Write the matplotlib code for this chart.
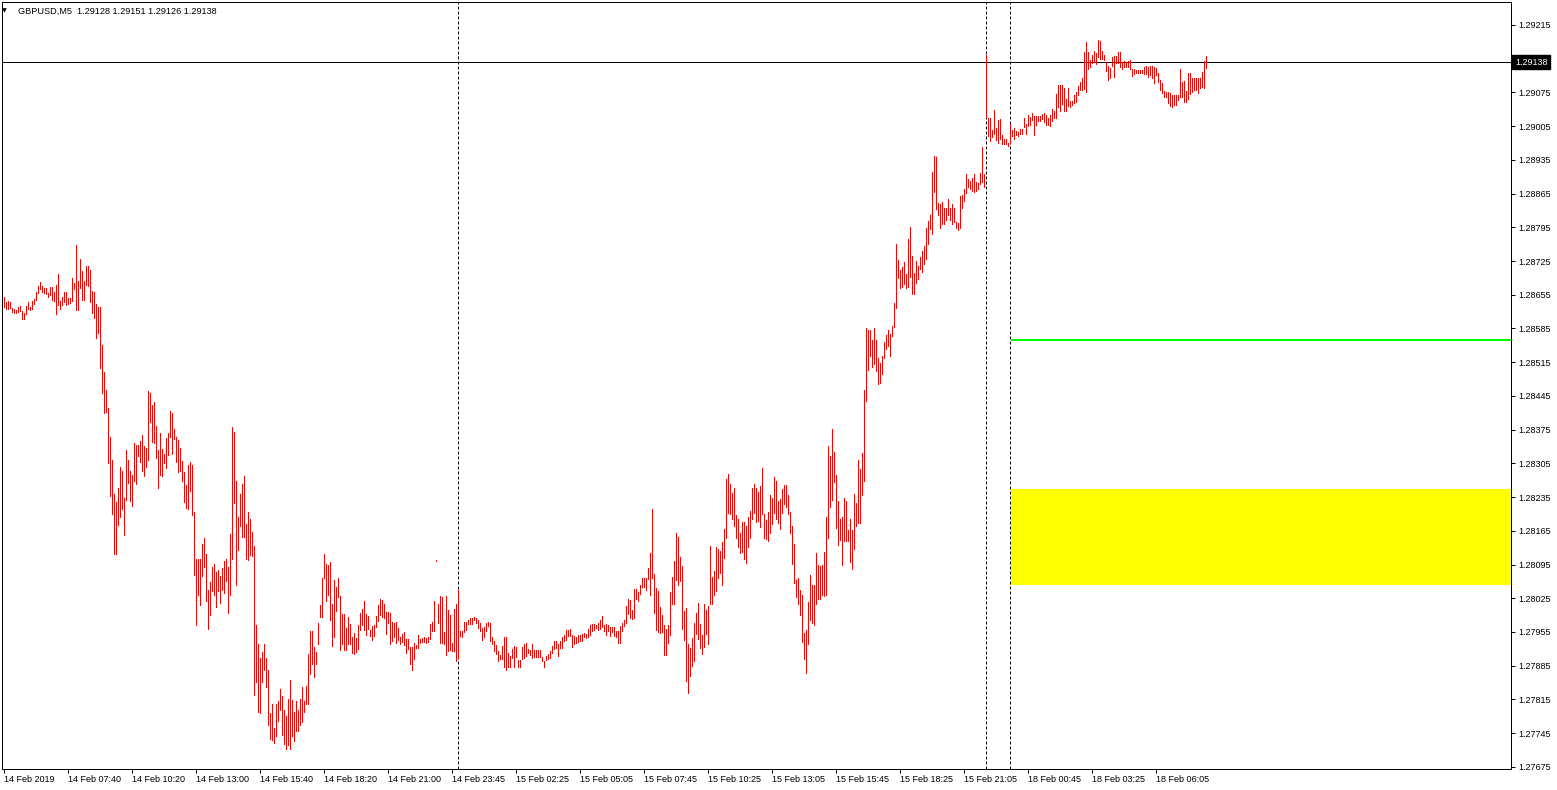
import numpy as np
import matplotlib.pyplot as plt
from matplotlib.patches import Rectangle
from matplotlib.transforms import blended_transform_factory

plt.rcParams['font.family'] = ['Liberation Sans', 'DejaVu Sans']

## GBPUSD M5 bars, high / low in points (0.00001) above 1.27000
high_pts = [
    1651, 1640, 1641, 1640, 1628, 1625, 1624, 1630, 1632, 1621,
    1618, 1632, 1640, 1630, 1643, 1647, 1661, 1673, 1681, 1673,
    1670, 1669, 1659, 1672, 1672, 1661, 1676, 1698, 1643, 1650,
    1661, 1661, 1648, 1649, 1690, 1680, 1759, 1683, 1730, 1705,
    1683, 1715, 1715, 1706, 1663, 1661, 1636, 1629, 1630, 1550,
    1495, 1457, 1420, 1360, 1312, 1241, 1225, 1254, 1297, 1290,
    1233, 1333, 1312, 1290, 1280, 1347, 1344, 1344, 1351, 1363,
    1341, 1337, 1455, 1450, 1427, 1432, 1383, 1333, 1367, 1334,
    1324, 1358, 1367, 1413, 1409, 1376, 1360, 1353, 1337, 1309,
    1287, 1261, 1301, 1308, 1301, 1204, 1107, 1107, 1107, 1138,
    1149, 1117, 1042, 1059, 1090, 1097, 1079, 1084, 1071, 1088,
    1103, 1107, 1090, 1158, 1381, 1370, 1269, 1194, 1241, 1263,
    1279, 1179, 1204, 1190, 1162, 1133, 970, 930, 901, 913,
    930, 901, 875, 787, 805, 756, 805, 812, 836, 822,
    792, 780, 816, 855, 814, 789, 812, 794, 816, 841,
    811, 843, 909, 958, 958, 924, 913, 974, 1010, 1067,
    1117, 1096, 1095, 1100, 1013, 1063, 1049, 1067, 1030, 992,
    992, 963, 987, 972, 945, 952, 942, 970, 995, 1003,
    1020, 992, 988, 960, 967, 969, 988, 1010, 1024, 1021,
    1013, 996, 996, 994, 975, 973, 975, 963, 944, 951,
    954, 941, 941, 923, 923, 933, 927, 948, 941, 942,
    944, 942, 945, 972, 976, 1020, 1105, 1012, 1030, 1028,
    954, 1030, 1001, 991, 933, 1003, 1013, 1042, 958, 956,
    976, 976, 980, 983, 983, 987, 983, 980, 973, 963,
    965, 974, 976, 974, 945, 936, 927, 916, 908, 926,
    945, 944, 911, 906, 919, 926, 923, 897, 897, 924,
    931, 933, 920, 918, 929, 918, 918, 918, 918, 904,
    895, 906, 909, 915, 926, 936, 937, 931, 936, 945,
    949, 959, 960, 962, 948, 947, 944, 949, 948, 951,
    952, 951, 962, 969, 972, 972, 970, 973, 980, 988,
    969, 972, 969, 966, 965, 965, 958, 958, 967, 973,
    980, 1009, 1024, 1021, 1001, 1045, 1045, 1037, 1053, 1068,
    1068, 1067, 1088, 1118, 1211, 1075, 1046, 1041, 1006, 990,
    970, 962, 970, 1038, 1070, 1103, 1160, 1153, 1110, 1092,
    999, 1005, 930, 922, 942, 974, 995, 1016, 972, 948,
    1013, 1001, 1009, 1133, 1070, 1081, 1132, 1128, 1124, 1142,
    1169, 1273, 1283, 1262, 1244, 1254, 1197, 1190, 1161, 1183,
    1183, 1174, 1194, 1207, 1254, 1262, 1254, 1246, 1258, 1295,
    1200, 1187, 1205, 1240, 1233, 1277, 1269, 1227, 1232, 1252,
    1261, 1261, 1240, 1204, 1174, 1138, 1063, 1066, 1042, 1032,
    952, 959, 1017, 1074, 1053, 1052, 1118, 1093, 1092, 1095,
    1121, 1194, 1340, 1320, 1377, 1329, 1280, 1226, 1189, 1194,
    1233, 1227, 1167, 1190, 1167, 1241, 1223, 1312, 1294, 1327,
    1457, 1585, 1582, 1582, 1561, 1585, 1562, 1524, 1514, 1528,
    1557, 1572, 1582, 1573, 1590, 1637, 1760, 1728, 1706, 1713,
    1722, 1699, 1770, 1796, 1735, 1701, 1726, 1715, 1734, 1746,
    1756, 1794, 1809, 1820, 1910, 1943, 1940, 1846, 1843, 1848,
    1835, 1835, 1854, 1835, 1843, 1835, 1806, 1803, 1860, 1863,
    1874, 1906, 1896, 1892, 1897, 1906, 1889, 1888, 1908, 1962,
    1906, 2153, 2022, 2022, 1997, 2039, 2001, 2018, 2019, 1986,
    1979, 1979, 1969, 2010, 1996, 2001, 1994, 1992, 2000, 2000,
    2021, 2010, 2029, 2023, 2032, 2027, 2026, 2027, 2027, 2030,
    2033, 2029, 2022, 2029, 2040, 2037, 2072, 2091, 2091, 2091,
    2084, 2062, 2084, 2057, 2057, 2069, 2076, 2088, 2097, 2104,
    2159, 2180, 2159, 2142, 2153, 2162, 2156, 2184, 2181, 2162,
    2153, 2138, 2129, 2126, 2149, 2151, 2151, 2158, 2159, 2138,
    2140, 2138, 2140, 2142, 2124, 2124, 2122, 2122, 2122, 2122,
    2127, 2130, 2127, 2130, 2130, 2127, 2126, 2115, 2101, 2094,
    2077, 2076, 2075, 2073, 2069, 2070, 2069, 2069, 2124, 2097,
    2099, 2077, 2115, 2116, 2105, 2105, 2105, 2105, 2105, 2117,
    2140, 2151,
]
low_pts = [
    1630, 1626, 1626, 1627, 1619, 1618, 1617, 1619, 1621, 1605,
    1605, 1616, 1625, 1623, 1625, 1636, 1644, 1658, 1666, 1661,
    1658, 1657, 1650, 1655, 1645, 1643, 1616, 1633, 1626, 1634,
    1640, 1634, 1636, 1637, 1643, 1666, 1623, 1623, 1668, 1644,
    1644, 1676, 1673, 1640, 1618, 1607, 1565, 1576, 1503, 1452,
    1410, 1412, 1306, 1237, 1200, 1117, 1116, 1178, 1194, 1210,
    1157, 1229, 1265, 1226, 1217, 1269, 1262, 1320, 1308, 1289,
    1279, 1298, 1312, 1390, 1349, 1348, 1316, 1254, 1280, 1279,
    1306, 1295, 1322, 1360, 1324, 1356, 1308, 1287, 1289, 1268,
    1225, 1212, 1211, 1247, 1197, 1073, 969, 1031, 1010, 1072,
    1089, 1020, 962, 991, 1041, 1031, 1007, 1041, 1016, 1042,
    1036, 1060, 994, 1031, 1106, 1222, 1053, 1126, 1174, 1153,
    1153, 1106, 1104, 1114, 1113, 825, 852, 789, 787, 852,
    875, 841, 762, 732, 731, 725, 740, 771, 794, 742,
    722, 713, 720, 713, 739, 729, 750, 749, 761, 768,
    789, 805, 805, 868, 888, 862, 888, 930, 987, 987,
    1066, 1020, 1031, 980, 926, 945, 998, 1028, 918, 930,
    918, 918, 931, 930, 911, 909, 913, 919, 959, 969,
    960, 948, 962, 947, 938, 947, 965, 977, 990, 985,
    983, 951, 973, 929, 936, 945, 933, 938, 929, 934,
    927, 911, 919, 888, 877, 898, 922, 922, 933, 934,
    935, 933, 935, 941, 958, 958, 1103, 974, 933, 933,
    929, 908, 916, 918, 916, 916, 895, 901, 947, 945,
    954, 959, 972, 972, 972, 980, 973, 963, 956, 938,
    945, 958, 967, 937, 929, 916, 909, 894, 898, 898,
    883, 875, 883, 883, 900, 883, 902, 883, 883, 898,
    900, 906, 911, 908, 901, 902, 904, 904, 904, 894,
    883, 897, 898, 901, 911, 919, 922, 906, 922, 922,
    936, 938, 947, 947, 924, 931, 933, 934, 936, 937,
    944, 942, 944, 948, 958, 960, 963, 960, 962, 966,
    956, 949, 956, 947, 955, 947, 945, 933, 933, 956,
    967, 973, 992, 983, 981, 983, 1023, 1020, 1034, 1048,
    1048, 1043, 1064, 1032, 1066, 995, 960, 955, 952, 954,
    908, 908, 933, 949, 1012, 1013, 1063, 1052, 1060, 962,
    938, 854, 829, 864, 884, 895, 951, 941, 922, 909,
    923, 951, 930, 1013, 1014, 1032, 1041, 1067, 1078, 1053,
    1109, 1149, 1201, 1199, 1190, 1174, 1149, 1131, 1118, 1121,
    1106, 1099, 1131, 1151, 1190, 1201, 1183, 1185, 1172, 1199,
    1150, 1147, 1143, 1160, 1180, 1201, 1190, 1182, 1169, 1201,
    1221, 1215, 1199, 1160, 1097, 1056, 1028, 1012, 990, 934,
    898, 869, 929, 980, 974, 969, 1014, 1024, 1023, 1032,
    1030, 1031, 1149, 1215, 1229, 1266, 1171, 1136, 1146, 1093,
    1143, 1144, 1144, 1100, 1086, 1128, 1175, 1182, 1182, 1240,
    1269, 1435, 1499, 1528, 1506, 1511, 1497, 1470, 1471, 1490,
    1524, 1543, 1549, 1528, 1569, 1589, 1627, 1690, 1668, 1672,
    1677, 1668, 1672, 1692, 1656, 1656, 1680, 1688, 1709, 1702,
    1719, 1730, 1760, 1792, 1781, 1868, 1834, 1821, 1794, 1802,
    1802, 1810, 1821, 1810, 1802, 1806, 1794, 1789, 1794, 1835,
    1850, 1867, 1879, 1875, 1871, 1868, 1871, 1875, 1885, 1889,
    1879, 2023, 1985, 1975, 1983, 1989, 1976, 1969, 1979, 1968,
    1967, 1967, 1964, 1969, 1985, 1979, 1986, 1985, 1989, 1989,
    2003, 1989, 2005, 2008, 2018, 1986, 2007, 2015, 2016, 2019,
    2014, 2007, 2008, 2005, 2016, 2022, 2021, 2044, 2037, 2051,
    2036, 2036, 2047, 2045, 2048, 2052, 2055, 2069, 2080, 2080,
    2083, 2076, 2124, 2127, 2137, 2138, 2135, 2149, 2144, 2145,
    2142, 2120, 2101, 2105, 2129, 2108, 2137, 2137, 2127, 2124,
    2127, 2127, 2127, 2123, 2109, 2113, 2116, 2116, 2116, 2116,
    2113, 2113, 2106, 2111, 2104, 2095, 2111, 2097, 2081, 2073,
    2066, 2066, 2054, 2047, 2045, 2048, 2048, 2059, 2066, 2065,
    2055, 2055, 2062, 2072, 2076, 2081, 2081, 2073, 2084, 2087,
    2084, 2126,
]

time_labels = ['14 Feb 2019', '14 Feb 07:40', '14 Feb 10:20', '14 Feb 13:00',
               '14 Feb 15:40', '14 Feb 18:20', '14 Feb 21:00', '14 Feb 23:45',
               '15 Feb 02:25', '15 Feb 05:05', '15 Feb 07:45', '15 Feb 10:25',
               '15 Feb 13:05', '15 Feb 15:45', '15 Feb 18:25', '15 Feb 21:05',
               '18 Feb 00:45', '18 Feb 03:25', '18 Feb 06:05']
label_step = 32          # bars between time labels

symbol = 'GBPUSD,M5'
last_ohlc = [1.29128, 1.29151, 1.29126, 1.29138]
price_first, price_last, price_step = 1.27675, 1.29215, 0.0007

green_level = 1.28561
zone_top, zone_bottom = 1.28252, 1.28052
zone_start = 503.5
separators = [227, 491, 503]

highs = 1.27 + np.array(high_pts) / 1e5
lows = 1.27 + np.array(low_pts) / 1e5
assert len(highs) == len(lows)
idx = np.arange(len(highs))

W, H = 1557, 790
fig = plt.figure(figsize=(W / 100, H / 100), dpi=100)
ax = fig.add_axes([2 / W, 21 / H, 1509 / W, 767 / H])
ax.set_xlim(-0.75, 753.75)
ax.set_ylim(1.276705, 1.292627)

px = 0.72  # one pixel in points

## bars
ax.vlines(idx, lows, highs, colors='#ff0000', linewidth=px, antialiased=False, zorder=3)

## objects
ax.add_patch(Rectangle((zone_start, zone_bottom), 760 - zone_start, zone_top - zone_bottom,
                       facecolor='#ffff00', edgecolor='none', zorder=1))
ax.hlines(green_level, zone_start, 760, colors='#00ff00', linewidth=2 * px, zorder=2)
for s in separators:
    ax.axvline(s, color='black', linewidth=px, linestyle=(0, (3, 2)), zorder=2)
ax.axhline(last_ohlc[3], color='black', linewidth=px, zorder=2)

## axes look
for sp in ax.spines.values():
    sp.set_linewidth(px)
    sp.set_color('black')

ax.yaxis.tick_right()
yt = np.arange(price_first, price_last + price_step / 2, price_step)
ax.set_yticks(yt)
# the label under the current-price box is hidden in the terminal
ax.set_yticklabels(['' if abs(v - last_ohlc[3]) < price_step / 4 else '%.5f' % v for v in yt])
ax.tick_params(axis='y', direction='out', length=4 * px, width=px, pad=2.5,
               labelsize=6.5, colors='black')

xt = np.arange(len(time_labels)) * label_step
ax.set_xticks(xt)
ax.set_xticklabels(time_labels)
for lbl in ax.get_xticklabels():
    lbl.set_ha('left')
ax.tick_params(axis='x', direction='out', length=4 * px, width=px, pad=1.2,
               labelsize=6.5, colors='black')

## current price label
trans = blended_transform_factory(ax.transAxes, ax.transData)
ax.annotate('%.5f' % last_ohlc[3], xy=(1, last_ohlc[3]), xycoords=trans,
            xytext=(4, 0), textcoords='offset pixels', ha='left', va='center',
            fontsize=6.5, color='white', annotation_clip=False, zorder=10,
            bbox=dict(boxstyle='square,pad=0.3', facecolor='black', edgecolor='black'))

## header
fig.text(4.5 / W, 1 - 10.5 / H, '\u25bc', family=['DejaVu Sans'], fontsize=4.5,
         ha='center', va='center', color='black')
fig.text(18 / W, 1 - 11 / H, symbol + '  ' + ' '.join('%.5f' % v for v in last_ohlc),
         ha='left', va='center', fontsize=6.6, color='black')

fig.savefig('out.png', dpi=100)
